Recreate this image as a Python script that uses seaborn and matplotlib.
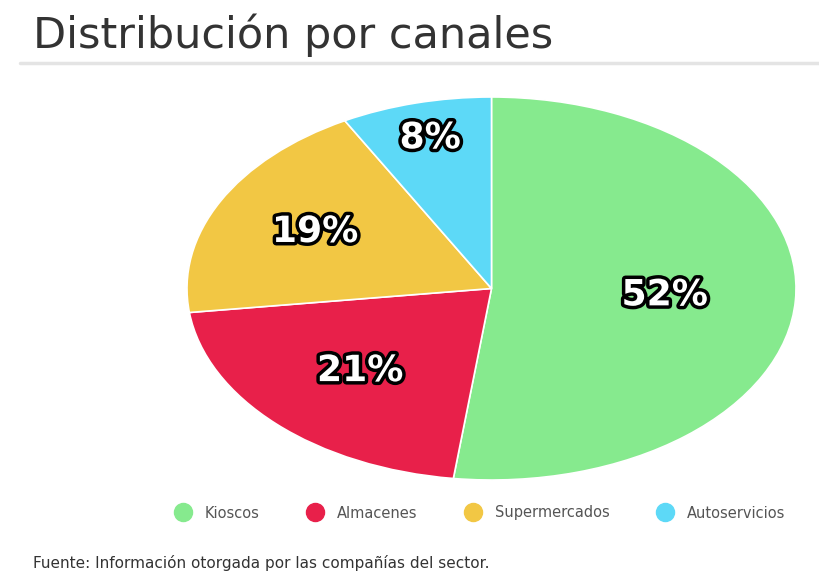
import matplotlib
matplotlib.use("Agg")
import numpy as np
import matplotlib.pyplot as plt
import matplotlib.patheffects as pe
from matplotlib.lines import Line2D
import seaborn as sns

categories = ["Kioscos", "Almacenes", "Supermercados", "Autoservicios"]
values = [52, 21, 19, 8]
labels = ["52%", "21%", "19%", "8%"]
colors = ["#86EA8E", "#E8204A", "#F2C744", "#5DD9F7"]
label_dist = [0.57, 0.61, 0.65, 0.81]

sns.set_theme(style="white")
plt.rcParams["font.family"] = ["DejaVu Sans"]

fig = plt.figure(figsize=(8.2, 5.73), dpi=100)
ax = fig.add_axes([187/820, 1-480/573, 609/820, 383/573])

wedges, texts = ax.pie(values, colors=colors, startangle=90, counterclock=False,
                       wedgeprops=dict(edgecolor="white", linewidth=1.2),
                       labels=labels, labeldistance=0.6)
ax.set_aspect("auto")
ax.set_xlim(-1, 1)
ax.set_ylim(-1, 1)
ax.axis("off")
for w, t, d in zip(wedges, texts, label_dist):
    ang = np.deg2rad((w.theta1 + w.theta2) / 2)
    t.set_position((d * np.cos(ang), d * np.sin(ang)))
    t.set_color("white")
    t.set_fontsize(26)
    t.set_fontweight("bold")
    t.set_ha("center"); t.set_va("center")
    t.set_path_effects([pe.withStroke(linewidth=5, foreground="black")])

fig.text(33/820, 1-48/573, "Distribución por canales", fontsize=31, color="#333333",
         ha="left", va="baseline")
fig.add_artist(Line2D([20/820, 1.0], [1-63/573, 1-63/573], color="#e4e4e4", lw=2.5,
                      transform=fig.transFigure))

handles = [Line2D([0], [0], marker="o", linestyle="", markersize=13,
                  markerfacecolor=c, markeredgecolor=c) for c in colors]
fig.legend(handles, categories, loc="center", bbox_to_anchor=(480/820, 1-513/573),
           ncol=4, frameon=False, fontsize=10.5, labelcolor="#555555",
           handlelength=1.2, handletextpad=0.9, columnspacing=3.2)

fig.text(33/820, 1-563/573, "Fuente: Información otorgada por las compañías del sector.",
         fontsize=11, color="#333333", ha="left", va="center")

fig.savefig("out.png", dpi=100, facecolor="white")
